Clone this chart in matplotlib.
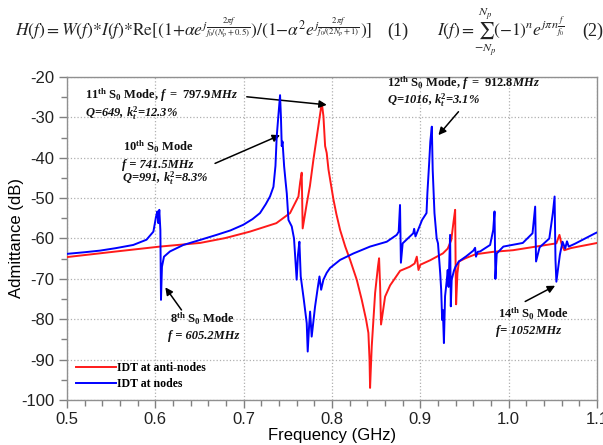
import matplotlib
matplotlib.use("Agg")
import matplotlib.pyplot as plt
from matplotlib.ticker import MultipleLocator

# ---------------- data ----------------
blue_f = [0.500, 0.520, 0.5374, 0.555, 0.575, 0.590, 0.5978, 0.6008, 0.6023, 0.6034,
          0.6045, 0.6057, 0.6064, 0.6075, 0.6098, 0.6166, 0.6317, 0.650, 0.6694, 0.685,
          0.6996, 0.710, 0.7185, 0.725, 0.7298, 0.7337, 0.736, 0.7374, 0.7395, 0.7412,
          0.7422, 0.7431, 0.744, 0.7458, 0.7475, 0.7488, 0.7507, 0.7544, 0.757, 0.760,
          0.7615, 0.7631, 0.7646, 0.768, 0.7714, 0.7725, 0.774, 0.7752, 0.777, 0.7808,
          0.784, 0.7858, 0.7877, 0.7903, 0.794, 0.7978, 0.8092, 0.8243, 0.8431, 0.862,
          0.8733, 0.8755, 0.877, 0.878, 0.880, 0.892, 0.893, 0.8945, 0.902, 0.907,
          0.908, 0.910, 0.9113, 0.913, 0.914, 0.916, 0.9185, 0.920, 0.9225, 0.9236,
          0.9247, 0.9255, 0.9267, 0.928, 0.930, 0.931, 0.932, 0.9337, 0.9345, 0.9355,
          0.938, 0.9398, 0.9436, 0.952, 0.960, 0.962, 0.963, 0.965, 0.9677, 0.979,
          0.9825, 0.984, 0.985, 0.9865, 0.994, 1.016, 1.027, 1.030, 1.031, 1.035,
          1.046, 1.050, 1.052, 1.053, 1.054, 1.058, 1.061, 1.064, 1.066, 1.068,
          1.075, 1.098, 1.100]
blue_db = [-63.8, -63.4, -63.0, -62.4, -61.6, -60.3, -58.3, -54.6, -53.3, -56.2,
           -52.9, -57.9, -75.2, -67.0, -64.5, -63.2, -61.6, -60.4, -59.1, -58.0,
           -56.6, -55.2, -53.7, -51.5, -49.6, -47.2, -42.0, -34.8, -29.0, -24.5,
           -30.0, -37.1, -36.0, -42.1, -46.0, -48.8, -55.4, -57.0, -60.0, -70.2,
           -64.0, -60.8, -69.4, -75.0, -81.0, -88.0, -82.0, -78.1, -84.3, -76.9,
           -72.0, -69.4, -72.7, -70.2, -68.5, -67.3, -65.3, -63.7, -62.0, -60.8,
           -59.1, -58.3, -51.7, -66.0, -61.2, -58.7, -57.6, -59.5, -55.4, -53.7,
           -48.7, -41.3, -36.0, -32.3, -43.0, -53.7, -60.0, -61.2, -68.6, -72.7,
           -80.2, -77.7, -85.9, -74.3, -70.2, -67.8, -72.0, -59.1, -76.8, -70.2,
           -68.0, -67.0, -65.7, -64.4, -63.0, -62.3, -64.5, -63.3, -63.2, -61.6,
           -57.9, -53.3, -70.0, -63.7, -62.0, -61.1, -58.7, -52.1, -65.7, -62.2,
           -60.0, -53.7, -49.6, -65.3, -70.7, -64.0, -60.8, -62.5, -60.7, -62.0,
           -61.3, -58.7, -58.5]

red_f = [0.500, 0.5562, 0.6053, 0.6506, 0.679, 0.707, 0.737, 0.7525, 0.762, 0.764,
         0.7657, 0.7668, 0.7713, 0.775, 0.779, 0.7846, 0.787, 0.7884, 0.7903, 0.7922,
         0.794, 0.796, 0.7978, 0.8016, 0.805, 0.8092, 0.815, 0.8205, 0.828, 0.8337,
         0.8386, 0.8412, 0.8425, 0.8431, 0.844, 0.845, 0.8488, 0.852, 0.8533, 0.8545,
         0.8555, 0.8601, 0.8658, 0.8771, 0.888, 0.8935, 0.896, 0.8979, 0.900, 0.911,
         0.9255, 0.931, 0.935, 0.9375, 0.9394, 0.940, 0.9405, 0.942, 0.9436, 0.951,
         0.9625, 0.9825, 1.005, 1.031, 1.054, 1.0575, 1.060, 1.063, 1.070, 1.079,
         1.098, 1.100]
red_db = [-64.6, -63.2, -62.0, -61.1, -59.9, -58.3, -56.2, -53.7, -49.6, -46.0,
          -43.7, -57.5, -51.5, -47.0, -40.4, -32.1, -28.5, -26.4, -29.7, -37.1,
          -38.8, -42.9, -45.3, -50.3, -54.0, -57.9, -62.0, -65.3, -70.2, -75.2,
          -80.1, -83.4, -90.0, -97.0, -92.0, -86.7, -73.5, -67.0, -64.9, -72.0,
          -81.3, -74.4, -71.6, -68.0, -67.0, -66.2, -64.5, -67.8, -66.5, -65.4,
          -63.7, -62.5, -60.4, -56.0, -52.9, -68.0, -76.3, -68.6, -65.7, -64.9,
          -63.9, -63.3, -62.9, -62.0, -61.2, -59.1, -61.5, -62.9, -62.4, -62.0,
          -61.2, -61.1]

series_labels = ["IDT at anti-nodes", "IDT at nodes"]
x_ticks = [0.5, 0.6, 0.7, 0.8, 0.9, 1.0, 1.1]
x_ticklabels = ["0.5", "0.6", "0.7", "0.8", "0.9", "1.0", "1.1"]
y_ticks = [-100, -90, -80, -70, -60, -50, -40, -30, -20]
y_ticklabels = ["-100", "-90", "-80", "-70", "-60", "-50", "-40", "-30", "-20"]

# ---------------- style ----------------
plt.rcParams['mathtext.fontset'] = 'custom'
plt.rcParams['mathtext.rm'] = 'Liberation Serif:bold'
plt.rcParams['mathtext.it'] = 'Liberation Serif:bold:italic'
plt.rcParams['mathtext.bf'] = 'Liberation Serif:bold'

fig = plt.figure(figsize=(6.03, 4.45), dpi=100)
ax = fig.add_axes([67/603, 1-400/445, (597-67)/603, (400-77)/445])

ax.plot(red_f, red_db, color='#ff1a1a', lw=1.4, label=series_labels[0], zorder=3)
ax.plot(blue_f, blue_db, color='#0000ff', lw=1.4, label=series_labels[1], zorder=4)

ax.set_xlim(0.5, 1.1)
ax.set_ylim(-100, -20)
ax.set_xticks(x_ticks)
ax.set_xticklabels(x_ticklabels)
ax.set_yticks(y_ticks)
ax.set_yticklabels(y_ticklabels)
ax.xaxis.set_minor_locator(MultipleLocator(0.02))
ax.yaxis.set_minor_locator(MultipleLocator(5))
ax.tick_params(which='major', direction='out', length=6, width=1, color='#808080',
               labelsize=12, labelcolor='#222222', pad=3)
ax.tick_params(which='minor', direction='out', length=4, width=1, color='#808080')
for lab in ax.get_xticklabels() + ax.get_yticklabels():
    lab.set_family('Liberation Sans')
for s in ax.spines.values():
    s.set_color('#909090')
    s.set_linewidth(1.0)
ax.grid(True, which='major', linestyle=':', color='#b0b0b0', lw=0.9)
ax.set_axisbelow(True)

ax.set_xlabel("Frequency (GHz)", family='Liberation Sans', fontsize=12)
ax.set_ylabel("Admittance (dB)", family='Liberation Sans', fontsize=12)
ax.xaxis.set_label_coords(0.5, -0.088)
ax.yaxis.set_label_coords(-0.082, 0.5)

# legend
leg = ax.legend(loc='lower left', bbox_to_anchor=(0.0167, 0.03), borderaxespad=0,
                borderpad=0, frameon=False, handlelength=3.4, handletextpad=0.1,
                labelspacing=0.35,
                prop=dict(family='Liberation Serif', weight='bold', size=8.5))

# annotations
tkw = dict(family='Liberation Serif', weight='bold', fontsize=9, va='center', ha='left',
           color='#111111')
ikw = dict(tkw, style='italic')
akw = dict(arrowstyle='-|>', color='black', lw=1.1, mutation_scale=11, shrinkA=0, shrinkB=0)

ax.text(0.5204, -24.5, r"11$^{\mathrm{th}}$ S$_{\mathrm{0}}$ Mode, $\mathit{f\ =\ 797.9MHz}$", **tkw)
ax.text(0.5204, -28.9, r"Q=649, k$_{\mathit{t}}^{\mathrm{2}}$=12.3%", **ikw)
ax.annotate("", xy=(0.7941, -26.9), xytext=(0.7035, -24.9), arrowprops=akw)

ax.text(0.5634, -37.3, r"10$^{\mathrm{th}}$ S$_{\mathrm{0}}$ Mode", **tkw)
ax.text(0.5625, -41.8, r"f = 741.5MHz", **ikw)
ax.text(0.5625, -45.1, r"Q=991, k$_{\mathit{t}}^{\mathrm{2}}$=8.3%", **ikw)
ax.annotate("", xy=(0.7412, -34.4), xytext=(0.6676, -41.4), arrowprops=akw)

ax.text(0.862, -21.6, r"12$^{\mathrm{th}}$ S$_{\mathrm{0}}$ Mode, $\mathit{f\ =\ 912.8MHz}$", **tkw)
ax.text(0.862, -25.7, r"Q=1016, k$_{\mathit{t}}^{\mathrm{2}}$=3.1%", **ikw)
ax.annotate("", xy=(0.9205, -34.4), xytext=(0.9432, -28.6), arrowprops=akw)

ax.text(0.6165, -80.0, r"8$^{\mathrm{th}}$ S$_{\mathrm{0}}$ Mode", **tkw)
ax.text(0.6143, -84.1, r"f = 605.2MHz", **ikw)
ax.annotate("", xy=(0.6113, -72.1), xytext=(0.6296, -77.7), arrowprops=akw)

ax.text(0.9883, -78.7, r"14$^{\mathrm{th}}$ S$_{\mathrm{0}}$ Mode", **tkw)
ax.text(0.986, -83.0, r"f= 1052MHz", **ikw)
ax.annotate("", xy=(1.0526, -71.7), xytext=(1.0187, -75.6), arrowprops=akw)

# equations at top
eqkw = dict(math_fontfamily='stix', va='baseline', ha='left', color='#222222')
eq1 = (r"$H(f){=}W(f){*}I(f){*}\mathrm{Re}[(1{+}\alpha e^{j\frac{2\pi f}{f_0/(N_p+0.5)}})"
       r"/(1{-}\alpha^2 e^{j\frac{2\pi f}{f_0/(2N_p+1)}})]$")
fig.text(15/603, 1-36/445, eq1, fontsize=12.6, **eqkw)
fig.text(387/603, 1-36/445, "(1)", fontsize=13, family='Liberation Serif',
         va='baseline', ha='left', color='#222222')
eq2 = r"$I(f){=}\!\sum_{-N_p}^{N_p}\!(-1)^n e^{j\pi n\frac{f}{f_0}}$"
fig.text(437/603, 1-36/445, eq2, fontsize=12.5, **eqkw)
fig.text(582/603, 1-36/445, "(2)", fontsize=13, family='Liberation Serif',
         va='baseline', ha='left', color='#222222')

fig.savefig("out.png", dpi=100)
